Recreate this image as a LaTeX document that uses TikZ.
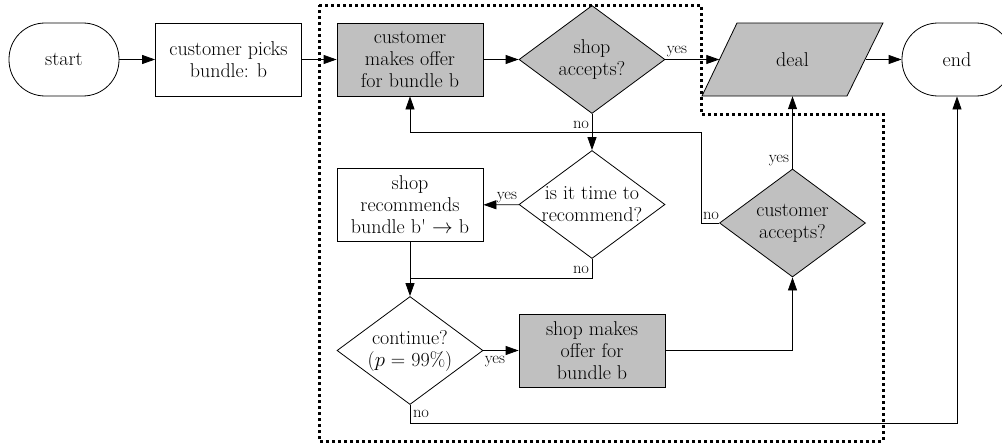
\documentclass[tikz,border=0pt]{standalone}
\usetikzlibrary{shapes.geometric,arrows.meta}
\definecolor{shade}{RGB}{192,192,192}
\begin{document}
\begin{tikzpicture}[x=1pt,y=-1pt,
  every node/.style={font=\fontsize{20}{22}\selectfont, align=center},
  base/.style={draw, line width=0.8pt, inner sep=0pt},
  term/.style={base, rectangle, rounded corners=36pt, minimum width=110pt, minimum height=73pt},
  proc/.style={base, rectangle, minimum width=146pt, minimum height=73pt},
  dec/.style={base, diamond, minimum width=146pt, minimum height=108pt},
  gfill/.style={fill=shade},
  lbl/.style={font=\fontsize{16.5}{16.5}\selectfont, inner sep=0pt},
  conn/.style={line width=0.8pt, -{Triangle[length=13pt,width=9pt]}},
  plain/.style={line width=0.8pt},
  region/.style={line width=3pt, dash pattern=on 3pt off 3pt}
]
\clip (0,0) rectangle (1002,447);

\node[term] (start) at (64,59.5) {start};
\node[proc] (pick) at (228.5,59.5) {customer picks\\bundle: b};
\node[proc,gfill] (offer) at (410,59.5) {customer\\makes offer\\for bundle b};
\node[dec,gfill] (d1) at (592,59.5) {};
\node (d1t) at (d1) {shop\\accepts?};
\draw[base, fill=shade] (702,96) -- (737,23) -- (883,23) -- (847,96) -- cycle;
\node[minimum width=146pt, minimum height=73pt, inner sep=0pt] (deal) at (792.5,59.5) {deal};
\node[term] (end) at (957,59.5) {end};
\node[dec] (d2) at (592,204.5) {};
\node (d2t) at (d2) {is it time to\\recommend?};
\node[proc] (rec) at (410,205) {shop\\recommends\\bundle b\textquotesingle{} $\rightarrow$ b};
\node[dec] (d3) at (410,350.5) {};
\node (d3t) at (d3) {continue?\\($p$ = 99\%)};
\node[proc,gfill] (soffer) at (592,350.5) {shop makes\\offer for\\bundle b};
\node[dec,gfill] (d4) at (792.5,223) {};
\node (d4t) at (d4) {customer\\accepts?};

\coordinate (j2) at (410,278);
\coordinate (j3) at (957,423);
\coordinate (j4) at (701,132);

\draw[conn] (start) -- (pick);
\draw[conn] (pick) -- (offer);
\draw[conn] (offer) -- (d1);
\draw[conn] (d1.east) -- (deal.west);
\draw[conn] (deal.east) -- (end);
\draw[conn] (d1) -- (d2);
\draw[conn] (d2) -- (rec);
\draw[plain] (d2.south) |- (j2);
\draw[conn] (rec) -- (d3);
\draw[conn] (d3) -- (soffer);
\draw[conn] (d3.south) |- (j3) -- (end.south);
\draw[conn] (soffer.east) -| (d4.south);
\draw[conn] (d4.north) -- (deal.south);
\draw[conn] (d4.west) -| (j4) -| (offer.south);

\node[lbl] (l1) at (677,52) {yes};
\node[lbl] (l2) at (581,125) {no};
\node[lbl] (l3) at (507,198) {yes};
\node[lbl] (l4) at (581,270) {no};
\node[lbl] (l5) at (495,362) {yes};
\node[lbl] (l6) at (421,414) {no};
\node[lbl] (l7) at (779,161) {yes};
\node[lbl] (l8) at (711,216) {no};

\draw[region] (319,5) -- (701,5) -- (701,114) -- (883,114) -- (883,441) -- (319,441) -- cycle;
\end{tikzpicture}
\end{document}
